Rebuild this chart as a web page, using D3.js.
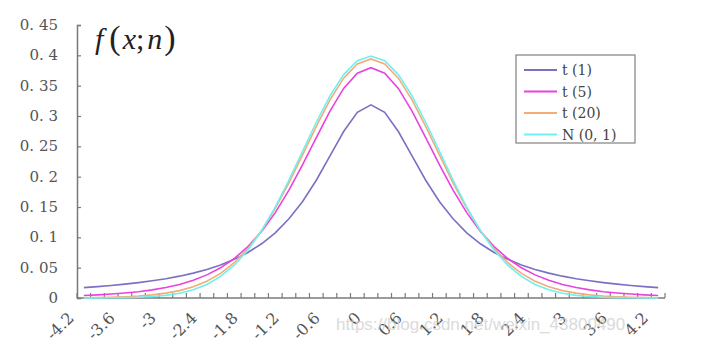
<!DOCTYPE html>
<html>
<head>
<meta charset="utf-8">
<script src="https://cdn.jsdelivr.net/npm/d3@7"></script>
<style>
  body { margin: 0; background: #fff; }
  svg { display: block; }
</style>
</head>
<body>
<div id="chart"></div>
<script>
// x categories -4.2 .. 4.2 (step 0.2)
var categories = ["-4.2","-4","-3.8","-3.6","-3.4","-3.2","-3","-2.8","-2.6","-2.4","-2.2","-2","-1.8","-1.6","-1.4","-1.2","-1","-0.8","-0.6","-0.4","-0.2","0",
  "0.2","0.4","0.6","0.8","1","1.2","1.4","1.6","1.8","2","2.2","2.4","2.6","2.8","3","3.2","3.4","3.6","3.8","4","4.2"];

var t1 = [0.0171,0.0187,0.0206,0.0228,0.0253,0.0283,0.0318,0.0360,0.0410,0.0471,0.0545,0.0637,0.0751,0.0894,0.1075,0.1305,0.1592,0.1941,0.2341,0.2744,0.3061,0.3183,
  0.3061,0.2744,0.2341,0.1941,0.1592,0.1305,0.1075,0.0894,0.0751,0.0637,0.0545,0.0471,0.0410,0.0360,0.0318,0.0283,0.0253,0.0228,0.0206,0.0187,0.0171];
var t5 = [0.0041,0.0051,0.0065,0.0082,0.0104,0.0134,0.0173,0.0224,0.0292,0.0381,0.0498,0.0651,0.0848,0.1098,0.1407,0.1777,0.2197,0.2645,0.3081,0.3454,0.3706,0.3796,
  0.3706,0.3454,0.3081,0.2645,0.2197,0.1777,0.1407,0.1098,0.0848,0.0651,0.0498,0.0381,0.0292,0.0224,0.0173,0.0134,0.0104,0.0082,0.0065,0.0051,0.0041];
var t20 = [0.0005,0.0008,0.0013,0.0021,0.0033,0.0051,0.0080,0.0122,0.0185,0.0276,0.0405,0.0581,0.0814,0.1112,0.1476,0.1899,0.2360,0.2830,0.3267,0.3624,0.3858,0.3940,
  0.3858,0.3624,0.3267,0.2830,0.2360,0.1899,0.1476,0.1112,0.0814,0.0581,0.0405,0.0276,0.0185,0.0122,0.0080,0.0051,0.0033,0.0021,0.0013,0.0008,0.0005];
var norm = [0.0001,0.0001,0.0003,0.0006,0.0012,0.0024,0.0044,0.0079,0.0136,0.0224,0.0355,0.0540,0.0790,0.1109,0.1497,0.1942,0.2420,0.2897,0.3332,0.3683,0.3910,0.3989,
  0.3910,0.3683,0.3332,0.2897,0.2420,0.1942,0.1497,0.1109,0.0790,0.0540,0.0355,0.0224,0.0136,0.0079,0.0044,0.0024,0.0012,0.0006,0.0003,0.0001,0.0001];

var seriesNames = ["t (1)", "t (5)", "t (20)", "N (0, 1)"];
var seriesColors = ["#7a70c4", "#e743e0", "#f4ab78", "#6ff0f0"];
var yTicks = [0, 0.05, 0.1, 0.15, 0.2, 0.25, 0.3, 0.35, 0.4, 0.45];
var xLabels = ["-4.2","-3.6","-3","-2.4","-1.8","-1.2","-0.6","0","0.6","1.2","1.8","2.4","3","3.6","4.2"];

var W = 701, H = 353;
var mLeft = 77, mRight = 665, mTop = 25, mBottom = 298;
var series = [t1, t5, t20, norm];

var svg = d3.select("#chart").append("svg")
    .attr("width", W)
    .attr("height", H);

var x = d3.scaleBand()
    .domain(categories)
    .range([mLeft, mRight]);

var y = d3.scaleLinear()
    .domain([0, 0.45])
    .range([mBottom, mTop]);

var axisColor = "#7a7a7a";
var textColor = "#555";
var font = "'DejaVu Serif', 'Liberation Serif', serif";

// y axis
var yAxis = d3.axisRight(y)
    .tickValues(yTicks)
    .tickSize(4)
    .tickFormat("");
var gy = svg.append("g")
    .attr("transform", "translate(" + mLeft + ",0)")
    .call(yAxis);
gy.select(".domain").attr("stroke", axisColor).attr("stroke-width", 1.5);
gy.selectAll(".tick line").attr("stroke", axisColor).attr("stroke-width", 1.2);

svg.append("g").selectAll("text")
    .data(yTicks)
    .enter().append("text")
    .attr("x", 58)
    .attr("y", function(d) { return y(d) + 5; })
    .attr("text-anchor", "end")
    .attr("fill", textColor)
    .style("font-family", font)
    .style("font-size", "15px")
    .text(function(d) { return d === 0 ? "0" : d3.format(".2~f")(d).replace(".", ". "); });

// x axis, ticks at category boundaries
var bounds = categories.map(function(c) { return x(c); }).concat([mRight]);
var gx = svg.append("g");
gx.append("line")
    .attr("x1", mLeft).attr("x2", mRight)
    .attr("y1", mBottom).attr("y2", mBottom)
    .attr("stroke", axisColor).attr("stroke-width", 1.5);
gx.selectAll(".tk")
    .data(bounds)
    .enter().append("line")
    .attr("class", "tk")
    .attr("x1", function(d) { return d; }).attr("x2", function(d) { return d; })
    .attr("y1", mBottom).attr("y2", mBottom - 5)
    .attr("stroke", axisColor).attr("stroke-width", 1.2);

gx.selectAll(".lbl")
    .data(xLabels)
    .enter().append("text")
    .attr("class", "lbl")
    .attr("text-anchor", "end")
    .attr("fill", textColor)
    .style("font-family", font)
    .style("font-size", "16px")
    .attr("transform", function(d) {
      var cx = x(d) + x.bandwidth() / 2 - 9;
      return "translate(" + cx + "," + (mBottom + 21) + ") rotate(-45)";
    })
    .text(function(d) { return d; });

// lines
var line = d3.line()
    .x(function(d, i) { return x(categories[i]) + x.bandwidth() / 2; })
    .y(function(d) { return y(d); });

svg.append("g").selectAll("path")
    .data(series)
    .enter().append("path")
    .attr("d", line)
    .attr("fill", "none")
    .attr("stroke", function(d, i) { return seriesColors[i]; })
    .attr("stroke-width", 1.6);

// title
var title = svg.append("text")
    .attr("x", 95)
    .attr("y", 49)
    .attr("fill", "#222")
    .style("font-family", "'Liberation Serif', 'Times New Roman', serif")
    .style("font-size", "30px");
title.append("tspan").style("font-style", "italic").text("f");
title.append("tspan").attr("dx", 6).style("font-size", "34px").text("(");
title.append("tspan").attr("dx", 2).style("font-style", "italic").text("x");
title.append("tspan").text(";");
title.append("tspan").attr("dx", 3).style("font-style", "italic").text("n");
title.append("tspan").attr("dx", 2).style("font-size", "34px").text(")");

// legend
var lg = svg.append("g");
lg.append("rect")
    .attr("x", 516).attr("y", 55)
    .attr("width", 119).attr("height", 88)
    .attr("fill", "#fff")
    .attr("stroke", "#808080")
    .attr("stroke-width", 1.2);
seriesNames.forEach(function(name, i) {
  var ly = 70 + i * 21.5;
  lg.append("line")
    .attr("x1", 524).attr("x2", 557)
    .attr("y1", ly).attr("y2", ly)
    .attr("stroke", seriesColors[i])
    .attr("stroke-width", 1.8);
  lg.append("text")
    .attr("x", 562).attr("y", ly + 5)
    .attr("fill", "#444")
    .style("font-family", font)
    .style("font-size", "14px")
    .text(name);
});

// watermark
svg.append("text")
    .attr("x", 336).attr("y", 330)
    .attr("fill", "#ccc")
    .attr("opacity", 0.7)
    .style("font-family", "'Liberation Sans', sans-serif")
    .style("font-size", "17px")
    .text("https://blog.csdn.net/weixin_43800490");
</script>
</body>
</html>
